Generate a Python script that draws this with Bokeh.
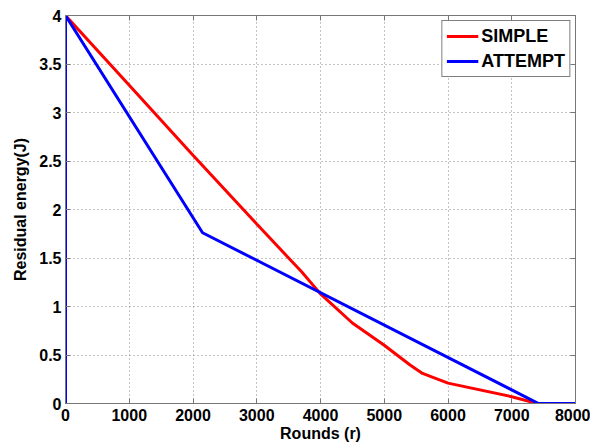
from bokeh.plotting import figure
from bokeh.models import LinearAxis, Range1d, FixedTicker, Legend, LegendItem
from bokeh.embed import file_html
from bokeh.resources import INLINE

simple_x = [0, 1000, 2000, 3000, 3500, 3700, 4000, 4500, 5000, 5400, 5600, 6000, 7000, 7400, 8000]
simple_y = [4.0, 3.28, 2.56, 1.85, 1.50, 1.36, 1.13, 0.83, 0.60, 0.40, 0.31, 0.21, 0.07, 0.0, 0.0]
attempt_x = [0, 0, 2150, 7420, 8000]
attempt_y = [0.0, 4.0, 1.76, 0.0, 0.0]
x_ticks = [0, 1000, 2000, 3000, 4000, 5000, 6000, 7000, 8000]
y_ticks = [0, 0.5, 1, 1.5, 2, 2.5, 3, 3.5, 4]

FONT = "Liberation Sans"
AXC = "#777777"

p = figure(width=590, height=444, output_backend="svg", toolbar_location=None,
           x_range=Range1d(0, 8000), y_range=Range1d(0, 4),
           min_border_left=65, min_border_right=15, min_border_top=15, min_border_bottom=41)

p.outline_line_color = AXC
p.outline_line_width = 1

for ax in (p.xaxis[0], p.yaxis[0]):
    ax.axis_line_color = AXC
    ax.major_tick_line_color = AXC
    ax.major_tick_in = 5
    ax.major_tick_out = 0
    ax.minor_tick_line_color = None
    ax.major_label_text_font = FONT
    ax.major_label_text_font_style = "bold"
    ax.major_label_text_font_size = "16px"
    ax.major_label_text_color = "black"
    ax.axis_label_text_font = FONT
    ax.axis_label_text_font_style = "bold"
    ax.axis_label_text_font_size = "16px"
    ax.axis_label_text_color = "black"

p.xaxis[0].ticker = FixedTicker(ticks=x_ticks)
p.yaxis[0].ticker = FixedTicker(ticks=y_ticks)
p.xaxis[0].major_label_overrides = {t: str(t) for t in x_ticks}
p.yaxis[0].major_label_overrides = {t: ("%g" % t) for t in y_ticks}
p.xaxis[0].axis_label = "Rounds (r)"
p.yaxis[0].axis_label = "Residual energy(J)"
p.xaxis[0].axis_label_standoff = 1
p.yaxis[0].axis_label_standoff = 7
p.xaxis[0].major_label_standoff = 5
p.yaxis[0].major_label_standoff = 4

top_ax = LinearAxis(ticker=FixedTicker(ticks=x_ticks),
                    major_label_overrides={t: "" for t in x_ticks},
                    axis_line_color=AXC, major_tick_line_color=AXC,
                    major_tick_in=5, major_tick_out=0, minor_tick_line_color=None)
right_ax = LinearAxis(ticker=FixedTicker(ticks=y_ticks),
                      major_label_overrides={t: "" for t in y_ticks},
                      axis_line_color=AXC, major_tick_line_color=AXC,
                      major_tick_in=5, major_tick_out=0, minor_tick_line_color=None)
p.add_layout(top_ax, "above")
p.add_layout(right_ax, "right")

p.grid.grid_line_color = "#888888"
p.grid.grid_line_dash = "1 3"
p.grid.grid_line_width = 1
p.xgrid.ticker = FixedTicker(ticks=x_ticks)
p.ygrid.ticker = FixedTicker(ticks=y_ticks)

r1 = p.line(simple_x, simple_y, line_color="#ff0000", line_width=3)
r2 = p.line(attempt_x, attempt_y, line_color="#0000ff", line_width=3)

legend = Legend(items=[LegendItem(label="SIMPLE", renderers=[r1]),
                       LegendItem(label="ATTEMPT", renderers=[r2])],
                location="top_right")
legend.label_text_font = FONT
legend.label_text_font_style = "bold"
legend.label_text_font_size = "18px"
legend.label_text_color = "black"
legend.border_line_color = "black"
legend.border_line_width = 1
legend.margin = 5
legend.padding = 4
legend.spacing = 3
legend.glyph_width = 32
legend.label_standoff = 3
legend.label_height = 22
legend.glyph_height = 22
p.add_layout(legend)

open("out.html", "w").write(file_html(p, INLINE))
